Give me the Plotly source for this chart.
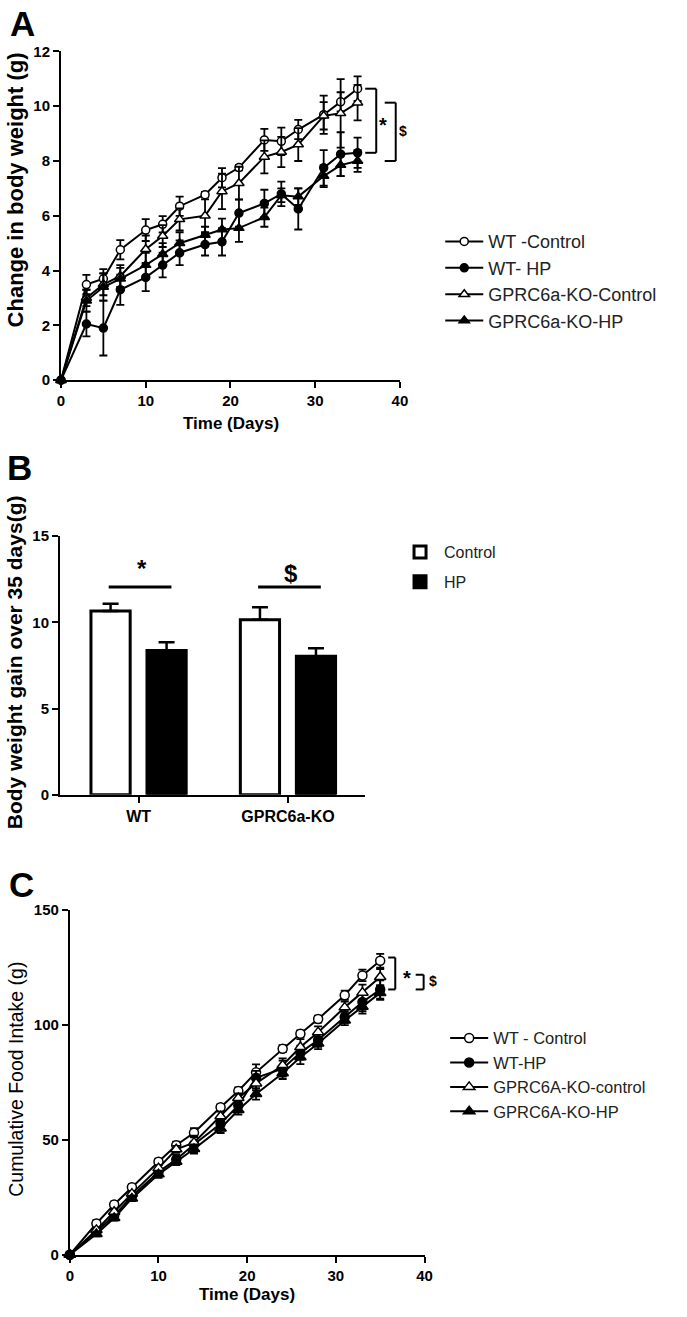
import plotly.graph_objects as go

W, H = 687, 1317

# ---- Panel A: change in body weight (g) ----
days = [0, 3, 5, 7, 10, 12, 14, 17, 19, 21, 24, 26, 28, 31, 33, 35]

a_wt_ctrl = [0, 3.49, 3.70, 4.76, 5.48, 5.69, 6.35, 6.77, 7.39, 7.76, 8.77, 8.72, 9.15, 9.69, 10.16, 10.64]
a_wt_ctrl_err = [0, 0.35, 0.35, 0.35, 0.4, 0.3, 0.35, 0.1, 0.35, 0.1, 0.4, 0.5, 0.35, 0.7, 0.35, 0.45]
a_wt_hp = [0, 2.05, 1.9, 3.3, 3.75, 4.2, 4.65, 4.95, 5.05, 6.1, 6.45, 6.8, 6.25, 7.75, 8.25, 8.3]
a_wt_hp_err = [0, 0.45, 1.0, 0.55, 0.5, 0.45, 0.45, 0.4, 0.5, 0.5, 0.5, 0.45, 0.75, 0.65, 0.8, 0.55]
a_ko_ctrl = [0, 3.0, 3.5, 3.8, 4.78, 5.26, 5.87, 6.0, 6.89, 7.19, 8.15, 8.33, 8.6, 9.65, 9.74, 10.13]
a_ko_ctrl_err = [0, 0.3, 0.4, 0.4, 0.5, 0.4, 0.4, 0.6, 0.65, 0.6, 0.6, 0.55, 0.6, 0.5, 1.25, 0.65]
a_ko_hp = [0, 2.9, 3.4, 3.7, 4.2, 4.6, 5.0, 5.3, 5.5, 5.55, 5.95, 6.75, 6.7, 7.45, 7.85, 8.0]
a_ko_hp_err = [0, 0.4, 0.5, 0.4, 0.45, 0.4, 0.4, 0.3, 0.4, 0.5, 0.35, 0.25, 0.3, 0.4, 0.4, 0.4]
a_names = ["WT -Control", "WT- HP", "GPRC6a-KO-Control", "GPRC6a-KO-HP"]

# ---- Panel B: body weight gain over 35 days ----
b_groups = ["WT", "GPRC6a-KO"]
b_control = [10.65, 10.15]
b_control_err = [0.42, 0.72]
b_hp = [8.36, 8.03]
b_hp_err = [0.48, 0.46]

# ---- Panel C: cumulative food intake (g) ----
c_wt_ctrl = [0, 13.6, 21.9, 29.4, 40.5, 47.7, 53.1, 64.2, 71.3, 79.4, 89.7, 96.2, 102.6, 113.0, 121.6, 128.0]
c_wt_ctrl_err = [0, 1.5, 1.2, 1.2, 1.3, 1.5, 2.0, 1.2, 1.5, 3.5, 1.5, 1.5, 1.5, 2.0, 2.5, 3.0]
c_wt_hp = [0, 10.0, 17.0, 25.5, 36.0, 41.5, 48.0, 57.0, 65.0, 77.0, 81.0, 88.0, 93.5, 103.5, 110.0, 115.5]
c_wt_hp_err = [0, 1.2, 1.5, 1.5, 1.5, 2.0, 3.5, 3.0, 3.0, 3.0, 3.5, 3.0, 3.0, 2.5, 4.0, 4.0]
c_ko_ctrl = [0, 10.8, 18.7, 26.6, 37.7, 45.9, 48.8, 60.3, 68.2, 74.6, 82.5, 90.4, 96.9, 107.7, 114.1, 120.9]
c_ko_ctrl_err = [0, 1.0, 1.0, 1.2, 1.3, 1.5, 3.0, 2.0, 2.0, 3.0, 3.0, 3.5, 2.5, 2.5, 3.5, 3.5]
c_ko_hp = [0, 9.0, 16.0, 24.5, 35.0, 40.5, 46.0, 55.0, 63.0, 70.0, 79.0, 86.0, 92.0, 102.0, 108.0, 114.0]
c_ko_hp_err = [0, 1.0, 1.2, 1.2, 1.5, 1.5, 2.0, 2.0, 2.0, 2.5, 2.5, 3.0, 2.5, 2.0, 3.0, 3.0]
c_names = ["WT - Control", "WT-HP", "GPRC6A-KO-control", "GPRC6A-KO-HP"]

FONT = "Liberation Sans, Arial, sans-serif"
symbols = ["circle", "circle", "triangle-up", "triangle-up"]
fills = ["white", "black", "white", "black"]
sizes = [8, 8, 9, 9]


def px(x):
    return x / W


def py(y):
    return 1 - y / H


fig = go.Figure()

for i, (ys, err) in enumerate([(a_wt_ctrl, a_wt_ctrl_err), (a_wt_hp, a_wt_hp_err),
                               (a_ko_ctrl, a_ko_ctrl_err), (a_ko_hp, a_ko_hp_err)]):
    fig.add_trace(go.Scatter(
        x=days, y=ys, name=a_names[i], mode="lines+markers",
        line=dict(color="black", width=2),
        marker=dict(symbol=symbols[i], size=sizes[i], color=fills[i],
                    line=dict(color="black", width=1.5)),
        error_y=dict(type="data", array=err, color="black", thickness=1.8, width=4),
        cliponaxis=False, xaxis="x", yaxis="y", legend="legend"))

fig.add_trace(go.Bar(
    x=b_groups, y=b_control, name="Control",
    marker=dict(color="white", line=dict(color="black", width=3)),
    error_y=dict(type="data", symmetric=False, array=b_control_err, arrayminus=[0, 0],
                 color="black", thickness=2.5, width=8),
    xaxis="x2", yaxis="y2", legend="legend2", legendgroup="bc"))
fig.add_trace(go.Bar(
    x=b_groups, y=b_hp, name="HP",
    marker=dict(color="black", line=dict(color="black", width=3)),
    error_y=dict(type="data", symmetric=False, array=b_hp_err, arrayminus=[0, 0],
                 color="black", thickness=2.5, width=8),
    xaxis="x2", yaxis="y2", legend="legend2", legendgroup="bh"))

for i, (ys, err) in enumerate([(c_wt_ctrl, c_wt_ctrl_err), (c_wt_hp, c_wt_hp_err),
                               (c_ko_ctrl, c_ko_ctrl_err), (c_ko_hp, c_ko_hp_err)]):
    fig.add_trace(go.Scatter(
        x=days, y=ys, name=c_names[i], mode="lines+markers",
        line=dict(color="black", width=2),
        marker=dict(symbol=symbols[i], size=sizes[i] + 1, color=fills[i],
                    line=dict(color="black", width=1.5)),
        error_y=dict(type="data", array=err, color="black", thickness=1.8, width=4),
        cliponaxis=False, xaxis="x3", yaxis="y3", legend="legend3"))

axis_common = dict(showgrid=False, zeroline=False, showline=True, linecolor="black",
                   linewidth=2, ticks="outside", ticklen=6, tickwidth=2, tickcolor="black")
tick_bold = dict(family=FONT, size=15, color="black", weight="bold")

fig.update_layout(
    width=W, height=H, margin=dict(l=0, r=0, t=0, b=0),
    paper_bgcolor="white", plot_bgcolor="white",
    font=dict(family=FONT, color="black"),
    barmode="group", bargap=0.25, bargroupgap=0.3,
    xaxis=dict(domain=[px(58), px(403)], range=[0, 40], tickvals=[0, 10, 20, 30, 40],
               anchor="y", tickfont=tick_bold, **axis_common),
    yaxis=dict(domain=[py(376), py(43)], range=[0, 12], dtick=2,
               anchor="x", tickfont=tick_bold, **axis_common),
    xaxis2=dict(domain=[px(57), px(367)], range=[-0.526, 1.513], anchor="y2",
                tickfont=dict(family=FONT, size=16, color="black", weight="bold"),
                **axis_common),
    yaxis2=dict(domain=[py(796), py(534)], range=[0, 15], dtick=5, anchor="x2",
                tickfont=dict(family=FONT, size=15, color="black", weight="bold"),
                **axis_common),
    xaxis3=dict(domain=[px(67), px(428)], range=[0, 40], tickvals=[0, 10, 20, 30, 40],
                anchor="y3", tickfont=tick_bold, **axis_common),
    yaxis3=dict(domain=[py(1262), py(913)], range=[0, 150], dtick=50,
                anchor="x3", tickfont=tick_bold, **axis_common),
    legend=dict(x=px(444), y=py(217), xanchor="left", yanchor="top",
                font=dict(family=FONT, size=18, color="#222"),
                bgcolor="rgba(0,0,0,0)", itemwidth=38),
    legend2=dict(x=px(399), y=py(533), xanchor="left", yanchor="top",
                 font=dict(family=FONT, size=16, color="#222"),
                 bgcolor="rgba(0,0,0,0)", tracegroupgap=6, itemwidth=38),
    legend3=dict(x=px(449), y=py(1025), xanchor="left", yanchor="top",
                 font=dict(family=FONT, size=16.5, color="#222"),
                 bgcolor="rgba(0,0,0,0)", itemwidth=38),
)

ann = []
# panel letters
for letter, cx, cy in [("A", 19, 15), ("B", 16, 465), ("C", 18, 887)]:
    ann.append(dict(text=letter, x=px(cx), y=py(cy), xref="paper", yref="paper",
                    xanchor="center", yanchor="middle", showarrow=False,
                    font=dict(family=FONT, size=35, color="black", weight="bold")))

# axis titles
titles = [
    dict(text="Change in body weight (g)", x=px(12), y=py(183), textangle=-90,
         font=dict(family=FONT, size=22, color="black", weight="bold")),
    dict(text="Time (Days)", x=px(231), y=py(420),
         font=dict(family=FONT, size=17, color="black", weight="bold")),
    dict(text="Body weight gain over 35 days(g)", x=px(11), y=py(662), textangle=-90,
         font=dict(family=FONT, size=21, color="black", weight="bold")),
    dict(text="Cumulative Food Intake (g)", x=px(12), y=py(1084), textangle=-90,
         font=dict(family=FONT, size=19.5, color="black")),
    dict(text="Time (Days)", x=px(247), y=py(1302),
         font=dict(family=FONT, size=17, color="black", weight="bold")),
]
for t in titles:
    t.update(xref="paper", yref="paper", xanchor="center", yanchor="middle",
             showarrow=False)
ann += titles

shapes = []


def bracket(xr, yr, x0, x1, ytop, ybot, ymax):
    # three-segment bracket ]  in axis-domain units
    t, b = ytop / ymax, ybot / ymax
    line = dict(color="black", width=2)
    return [
        dict(type="line", xref=xr, yref=yr, x0=x0, x1=x1, y0=t, y1=t, line=line),
        dict(type="line", xref=xr, yref=yr, x0=x1, x1=x1, y0=t, y1=b, line=line),
        dict(type="line", xref=xr, yref=yr, x0=x0, x1=x1, y0=b, y1=b, line=line),
    ]


def mark(text, xr, yr, x, y, size):
    return dict(text=text, x=x, y=y, xref=xr, yref=yr, showarrow=False,
                xanchor="center", yanchor="middle",
                font=dict(family=FONT, size=size, color="black", weight="bold"))


# Panel A significance brackets
shapes += bracket("x domain", "y domain", 35.9 / 40, 37.2 / 40, a_wt_ctrl[-1], a_wt_hp[-1], 12)
shapes += bracket("x domain", "y domain", 38.2 / 40, 39.5 / 40, a_ko_ctrl[-1], a_ko_hp[-1], 12)
ann.append(mark("*", "x domain", "y domain", 38.0 / 40, 9.3 / 12, 20))
ann.append(mark("$", "x domain", "y domain", 40.4 / 40, 9.1 / 12, 14))

# Panel C significance brackets
shapes += bracket("x3 domain", "y3 domain", 35.9 / 40, 36.7 / 40, c_wt_ctrl[-1] + 1.4, c_wt_hp[-1], 150)
shapes += bracket("x3 domain", "y3 domain", 39.0 / 40, 39.9 / 40, c_ko_ctrl[-1] + 1, c_wt_hp[-1], 150)
ann.append(mark("*", "x3 domain", "y3 domain", 38.0 / 40, 120.5 / 150, 20))
ann.append(mark("$", "x3 domain", "y3 domain", 41.0 / 40, 119 / 150, 14))

# Panel B significance lines
for i, m, yy in [(0, "*", 13.1), (1, "$", 12.85)]:
    shapes.append(dict(type="line", xref="x2", yref="y2", x0=i - 0.2, x1=i + 0.22,
                       y0=12.05, y1=12.05, line=dict(color="black", width=3)))
    ann.append(mark(m, "x2", "y2", i + 0.02, yy, 24))

fig.update_layout(annotations=ann, shapes=shapes)

fig.write_html("out.html", config={"displayModeBar": False},
               post_script="document.body.style.margin='0px';")
